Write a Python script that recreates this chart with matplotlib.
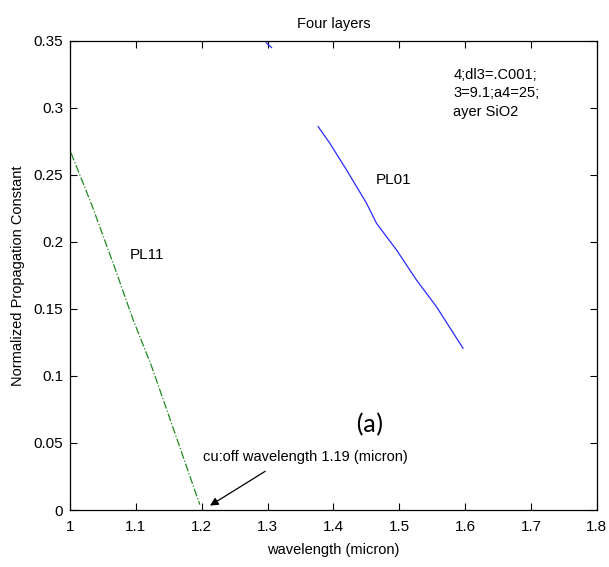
import matplotlib
matplotlib.use('Agg')
import matplotlib.pyplot as plt
import numpy as np

plt.rcParams.update({'font.family': ['Liberation Sans Narrow', 'Liberation Sans', 'DejaVu Sans'],
                     'font.size': 11})

# PL11 mode (green, dash-dot)
pl11_x = [1.0015, 1.033, 1.068, 1.095, 1.124, 1.156, 1.197]
pl11_y = [0.2664, 0.2276, 0.1806, 0.143, 0.107, 0.062, 0.004]
# PL01 mode (blue) — short piece at the top, gap, then main part
pl01_x = [1.298, 1.306, np.nan, 1.3768, 1.3945, 1.4199, 1.4502, 1.4654,
          1.4958, 1.5261, 1.5564, 1.5968]
pl01_y = [0.3485, 0.345, np.nan, 0.2860, 0.2736, 0.2537, 0.2289, 0.2139,
          0.1940, 0.1716, 0.1517, 0.1207]

xticks = [1, 1.1, 1.2, 1.3, 1.4, 1.5, 1.6, 1.7, 1.8]
xticklabels = ['1', '1.1', '1.2', '1.3', '1.4', '1.5', '1.6', '1.7', '1.8']
yticks = [0, 0.05, 0.1, 0.15, 0.2, 0.25, 0.3, 0.35]
yticklabels = ['0', '0.05', '0.1', '0.15', '0.2', '0.25', '0.3', '0.35']

fig = plt.figure(figsize=(6.09, 5.67), dpi=100)
ax = fig.add_axes([0.115, 0.1005, 0.865, 0.8275])

ax.plot(pl11_x, pl11_y, color='#1f8a1f', lw=0.9, ls='-.')
ax.plot(pl01_x, pl01_y, color='#2a2aff', lw=0.9)

ax.set_xlim(1, 1.8)
ax.set_ylim(0, 0.35)
ax.set_xticks(xticks)
ax.set_xticklabels(xticklabels)
ax.set_yticks(yticks)
ax.set_yticklabels(yticklabels)
ax.tick_params(axis='x', direction='in', top=True, length=5, width=0.8, pad=7)
ax.tick_params(axis='y', direction='in', right=True, length=5, width=0.8, pad=5)
for s in ax.spines.values():
    s.set_linewidth(0.9)

ax.set_title('Four layers', fontsize=10.5, pad=9)
ax.set_xlabel('wavelength (micron)', fontsize=10.5, labelpad=7)
ax.set_ylabel('Normalized Propagation Constant', fontsize=10.5, labelpad=6)

ax.text(1.465, 0.246, 'PL01', fontsize=11, va='center')
ax.text(1.091, 0.190, 'PL11', fontsize=11, va='center')
ax.text(1.582, 0.3245, '4;dl3=.C001;', fontsize=10.5, va='center')
ax.text(1.582, 0.3112, '3=9.1;a4=25;', fontsize=10.5, va='center')
ax.text(1.582, 0.2970, 'ayer SiO2', fontsize=10.5, va='center')
ax.text(1.455, 0.064, '(a)', fontsize=19, ha='center', va='center',
        family=['Carlito', 'Liberation Sans', 'DejaVu Sans'])
ax.annotate('cu:off wavelength 1.19 (micron)', xy=(1.209, 0.0022), xytext=(1.2015, 0.0396),
            fontsize=10.5, va='center', ha='left')
ax.annotate('', xy=(1.209, 0.0022), xytext=(1.30, 0.030),
            arrowprops=dict(arrowstyle='-|>', color='black', lw=0.9, mutation_scale=12))

plt.savefig('out.png', dpi=100)
